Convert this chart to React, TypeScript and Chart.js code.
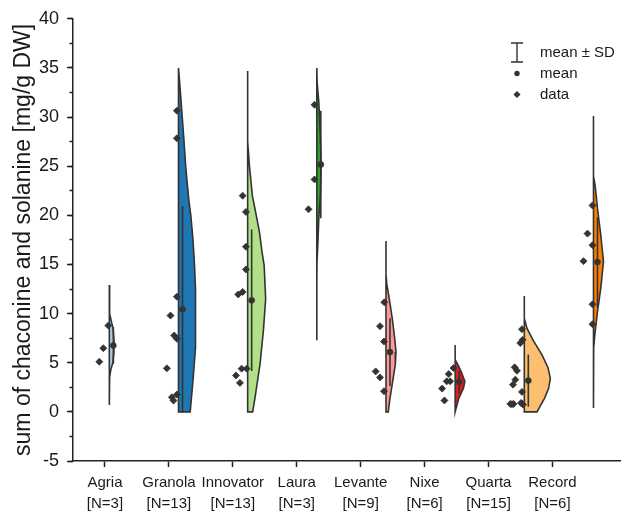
import React, { useEffect, useRef } from 'react';
import { Chart, registerables } from 'chart.js';

Chart.register(...registerables);

// ---------- data ----------
const categories = ['Agria', 'Granola', 'Innovator', 'Laura', 'Levante', 'Nixe', 'Quarta', 'Record'];
const counts = [3, 13, 13, 3, 9, 6, 15, 6];
const colors = ['#a6cee3', '#1f78b4', '#b2df8a', '#33a02c', '#fb9a99', '#e31a1c', '#fdbf6f', '#ff7f00'];
const means = [6.76, 10.44, 11.35, 25.17, 6.08, 3.04, 3.18, 15.24];
const sds = [1.87, 10.5, 7.2, 5.47, 3.45, 1.15, 2.67, 4.57];

// individual measurements (and their horizontal jitter, in pixel-like units)
const agriaValues = [8.78, 6.48, 5.1];
const agriaJitter = [-1, -6, -10];
const granolaValues = [30.64, 27.84, 11.72, 9.8, 7.77, 7.44, 4.43, 1.76, 1.49, 1.15];
const granolaJitter = [-1.6, -1.6, -1.6, -8, -4.3, -1.6, -11.6, -1.6, -6.6, -5];
const innovatorValues = [22.0, 20.35, 16.8, 14.5, 12.2, 11.95, 4.4, 4.4, 3.7, 2.95];
const innovatorJitter = [-5, -1.7, -1.7, -1.7, -5, -9.4, -6, -1, -11.7, -7.7];
const lauraValues = [31.25, 23.65, 20.61];
const lauraJitter = [-2.3, -2.3, -8.3];
const levanteValues = [11.15, 8.72, 7.16, 4.12, 3.51, 2.1];
const levanteJitter = [-1.7, -6, -2, -10.3, -6, -2];
const nixeValues = [4.46, 3.85, 3.11, 3.11, 2.37, 1.16];
const nixeJitter = [-1.7, -6.4, -8.4, -5, -13, -10.7];
const quartaValues = [8.41, 7.33, 7.0, 4.53, 4.19, 3.28, 2.77, 2.03, 0.81, 0.78, 0.81, 0.91, 0.86, 0.74];
const quartaJitter = [-2.3, -1.7, -4, -9.7, -7.3, -9, -11.3, -2.3, -14, -12.3, -10.7, -3.3, -2.3, -1.3];
const recordValues = [21.01, 18.14, 16.96, 15.34, 10.94, 8.92];
const recordJitter = [-1, -6, -1, -10, -1, -1];

// violin outlines: levels (value axis) and half-widths (density, pixel-like units)
const agriaLevels = [12.9, 10.0, 9.0, 8.5, 7.0, 6.0, 5.0, 4.3, 3.5, 0.7];
const agriaWidths = [0, 0.3, 2.5, 3.8, 4.8, 4.5, 3.5, 1.5, 0.3, 0];
const granolaLevels = [35, 32, 28, 25, 23.4, 21.4, 20, 17.5, 15, 12.5, 10, 6.5, 3, 0];
const granolaWidths = [0, 2.3, 5.2, 7.2, 8.6, 10.5, 12.3, 14.5, 16, 17, 17.3, 16.7, 14.3, 11.7];
const innovatorLevels = [34.7, 27.5, 25, 22, 20, 18.3, 16.3, 14.9, 11.5, 8.2, 4.8, 1.4, 0];
const innovatorWidths = [0, 0, 1.8, 4.7, 8.6, 11.8, 14.3, 16.5, 18, 15.7, 12.3, 7.3, 5];
const lauraLevels = [35, 33.5, 31.5, 28, 25, 22, 19.7, 17, 15.3, 13, 7.3];
const lauraWidths = [0, 0.3, 2, 3.5, 4.3, 3.5, 2, 1, 0.2, 0, 0];
const levanteLevels = [17.4, 14, 13, 11.5, 9.5, 7.2, 6.1, 4.8, 3.1, 1.4, 0];
const levanteWidths = [0, 0, 0.8, 3.3, 6.3, 9, 10, 9.3, 6.7, 4, 2.3];
const nixeLevels = [6.8, 5.3, 4.8, 4.1, 3.1, 2.4, 1.4, 0.4, 0];
const nixeWidths = [0, 0, 2.7, 6, 9.7, 8.3, 3.7, 1, 0];
const quartaLevels = [11.8, 9.5, 8.5, 7.2, 5.8, 4.5, 3.4, 2.4, 1.4, 0.6, 0];
const quartaWidths = [0, 0, 2.7, 9.3, 17.7, 23.7, 26, 24.3, 20.3, 16, 12.7];
const recordLevels = [30.1, 24, 23, 20.7, 18, 15.3, 12.6, 10.2, 7.8, 6.5, 5.5, 0.4];
const recordWidths = [0, 0, 1.7, 4, 7.3, 10, 7.3, 4, 1.3, 0.2, 0, 0];

const yTicks = [-5, 0, 5, 10, 15, 20, 25, 30, 35, 40];

const pointValues = [agriaValues, granolaValues, innovatorValues, lauraValues, levanteValues, nixeValues, quartaValues, recordValues];
const pointJitter = [agriaJitter, granolaJitter, innovatorJitter, lauraJitter, levanteJitter, nixeJitter, quartaJitter, recordJitter];
const violinLevels = [agriaLevels, granolaLevels, innovatorLevels, lauraLevels, levanteLevels, nixeLevels, quartaLevels, recordLevels];
const violinWidths = [agriaWidths, granolaWidths, innovatorWidths, lauraWidths, levanteWidths, nixeWidths, quartaWidths, recordWidths];

// ---------- layout helpers ----------
const PX = 1 / 63.9; // x-units per pixel-like width unit
const slot = (i: number) => 1.068 + 1.082 * i; // left edge of each half violin
const INK = '#333333';

const legendPlugin = {
  id: 'violinLegend',
  afterDraw(chart: any) {
    const { ctx } = chart;
    const sx = chart.width - 108;
    const tx = chart.width - 85;
    const y0 = 52.5;
    const y1 = y0 + 21;
    const y2 = y0 + 42;
    ctx.save();
    ctx.strokeStyle = INK;
    ctx.lineWidth = 1.4;
    ctx.beginPath();
    ctx.moveTo(sx - 6, y0 - 9.5);
    ctx.lineTo(sx + 6, y0 - 9.5);
    ctx.moveTo(sx, y0 - 9.5);
    ctx.lineTo(sx, y0 + 9.5);
    ctx.moveTo(sx - 6, y0 + 9.5);
    ctx.lineTo(sx + 6, y0 + 9.5);
    ctx.stroke();
    ctx.fillStyle = INK;
    ctx.beginPath();
    ctx.arc(sx, y1, 2.7, 0, Math.PI * 2);
    ctx.fill();
    ctx.beginPath();
    ctx.moveTo(sx - 3.6, y2);
    ctx.lineTo(sx, y2 - 3.6);
    ctx.lineTo(sx + 3.6, y2);
    ctx.lineTo(sx, y2 + 3.6);
    ctx.closePath();
    ctx.fill();
    ctx.fillStyle = '#1a1a1a';
    ctx.font = "15px 'Liberation Sans', Arial, sans-serif";
    ctx.textBaseline = 'middle';
    ctx.textAlign = 'left';
    ctx.fillText('mean \u00b1 SD', tx, y0);
    ctx.fillText('mean', tx, y1);
    ctx.fillText('data', tx, y2);
    ctx.restore();
  },
};

export default function App() {
  const canvasRef = useRef<HTMLCanvasElement | null>(null);

  useEffect(() => {
    if (!canvasRef.current) return;
    Chart.defaults.font.family = "'Liberation Sans', Arial, sans-serif";
    Chart.defaults.color = '#1a1a1a';

    const violinSets = violinLevels.map((levels, i) => {
      const base = slot(i);
      const widths = violinWidths[i];
      const pts = levels.map((v, j) => ({ x: base + widths[j] * PX, y: v }));
      pts.push({ x: base, y: levels[levels.length - 1] });
      pts.push({ x: base, y: levels[0] });
      return {
        label: categories[i] + ' violin',
        data: pts,
        showLine: true,
        fill: 'shape',
        backgroundColor: colors[i],
        borderColor: INK,
        borderWidth: 1.6,
        pointRadius: 0,
        tension: 0,
        order: 3,
      };
    });

    const sdSets = means.map((m, i) => ({
      label: categories[i] + ' sd',
      data: [
        { x: slot(i) + 4 * PX, y: m - sds[i] },
        { x: slot(i) + 4 * PX, y: m + sds[i] },
      ],
      showLine: true,
      fill: false,
      borderColor: INK,
      borderWidth: 1.6,
      pointRadius: 0,
      order: 2,
    }));

    const meanSet = {
      label: 'mean',
      data: means.map((m, i) => ({ x: slot(i) + 4 * PX, y: m })),
      pointStyle: 'circle',
      pointRadius: 3,
      pointBorderWidth: 0.6,
      pointBackgroundColor: INK,
      pointBorderColor: INK,
      showLine: false,
      order: 1,
    };

    const dataPts: { x: number; y: number }[] = [];
    pointValues.forEach((vals, i) => {
      vals.forEach((v, j) => {
        dataPts.push({ x: slot(i) + pointJitter[i][j] * PX, y: v });
      });
    });
    const dataSet = {
      label: 'data',
      data: dataPts,
      pointStyle: 'rectRot',
      pointRadius: 3.5,
      pointBorderWidth: 0.8,
      pointBackgroundColor: INK,
      pointBorderColor: INK,
      showLine: false,
      order: 0,
    };

    const chart = new Chart(canvasRef.current, {
      type: 'scatter',
      data: { datasets: [dataSet, meanSet, ...sdSets, ...violinSets] as any },
      plugins: [legendPlugin],
      options: {
        animation: false,
        responsive: true,
        maintainAspectRatio: false,
        events: [],
        layout: { padding: { top: 14, right: 0, bottom: -7, left: 0 } },
        plugins: {
          legend: { display: false },
          tooltip: { enabled: false },
        },
        scales: {
          x: {
            type: 'linear',
            min: 0.5,
            max: 9.06,
            afterBuildTicks: (axis: any) => {
              axis.ticks = categories.map((_, i) => ({ value: i + 1 }));
            },
            ticks: {
              autoSkip: false,
              maxRotation: 0,
              padding: 5,
              color: '#1a1a1a',
              font: { size: 15, lineHeight: 1.4 },
              callback: (value: any) => {
                const i = Math.round(Number(value)) - 1;
                return [categories[i], '[N=' + counts[i] + ']'];
              },
            },
            grid: { drawOnChartArea: false, drawTicks: true, tickLength: 6, tickColor: '#222', tickWidth: 1.5 },
            border: { color: '#222', width: 1.5 },
          },
          y: {
            type: 'linear',
            position: 'left',
            min: -5,
            max: 40,
            afterBuildTicks: (axis: any) => {
              axis.ticks = yTicks.map((v) => ({ value: v }));
            },
            ticks: { padding: 8, color: '#1a1a1a', font: { size: 18 } },
            grid: { drawOnChartArea: false, drawTicks: true, tickLength: 6, tickColor: '#222', tickWidth: 1.5 },
            border: { color: '#222', width: 1.5 },
            title: {
              display: true,
              text: 'sum of chaconine and solanine [mg/g DW]',
              color: '#1a1a1a',
              font: { size: 23 },
              padding: { top: 10, bottom: -6.6 },
            },
          },
          yMinor: {
            type: 'linear',
            position: { x: 0.5 } as any,
            min: -5,
            max: 40,
            ticks: { display: false, stepSize: 2.5 },
            grid: { drawOnChartArea: false, drawTicks: true, tickLength: 3.5, tickColor: '#222', tickWidth: 1.5 },
            border: { display: false },
          },
        },
      } as any,
    });
    return () => chart.destroy();
  }, []);

  return (
    <div style={{ position: 'fixed', left: 0, top: 0, width: 625, height: 512 }}>
      <canvas ref={canvasRef} />
    </div>
  );
}
